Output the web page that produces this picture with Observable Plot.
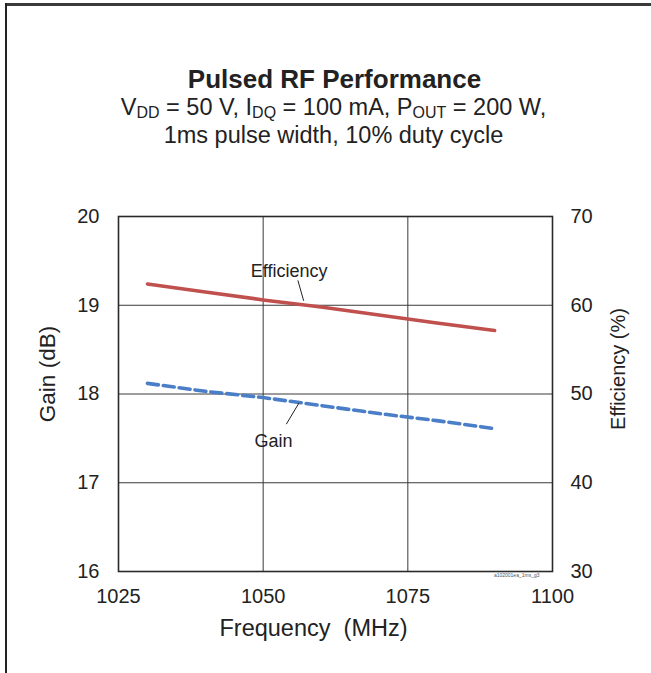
<!DOCTYPE html>
<html>
<head>
<meta charset="utf-8">
<script src="https://cdn.jsdelivr.net/npm/d3@7"></script>
<script src="https://cdn.jsdelivr.net/npm/@observablehq/plot@0.6"></script>
<style>
  html, body { margin: 0; padding: 0; background: #fff; }
  #wrap { position: relative; width: 651px; height: 673px; overflow: hidden; font-family: "Liberation Sans", Arial, sans-serif; color: #222; }
  .bt { position: absolute; left: 5px; top: 3px; width: 646px; height: 2.5px; background: #3a3a3a; }
  .bl { position: absolute; left: 5px; top: 3px; width: 2px; height: 670px; background: #222; }
  .title { position: absolute; left: 0; width: 669px; top: 66px; text-align: center; font-size: 26px; line-height: 26px; font-weight: bold; white-space: nowrap; }
  .sub { position: absolute; left: 0; width: 667px; text-align: center; font-size: 23.5px; line-height: 24px; white-space: nowrap; }
  .sub sub { font-size: 0.68em; vertical-align: -0.2em; line-height: 0; }
  #chart { position: absolute; left: 0; top: 170px; }
</style>
</head>
<body>
<div id="wrap">
  <div class="bt"></div>
  <div class="bl"></div>
  <div class="title">Pulsed RF Performance</div>
  <div class="sub" style="top:95px">V<sub>DD</sub> = 50 V, I<sub>DQ</sub> = 100 mA, P<sub>OUT</sub> = 200 W,</div>
  <div class="sub" style="top:123px">1ms pulse width, 10% duty cycle</div>
  <div id="chart"></div>
</div>
<script>
// ---- data ----
const freq = [1030, 1040, 1050, 1060, 1070, 1080, 1090];
const gain = [18.12, 18.03, 17.96, 17.87, 17.78, 17.70, 17.61];
const efficiency = [62.4, 61.5, 60.6, 59.8, 58.9, 58.0, 57.15];

const freqTicks = [1025, 1050, 1075, 1100];
const gainTicks = [16, 17, 18, 19, 20];
const effTicks = [30, 40, 50, 60, 70];

const annText = ["Efficiency", "Gain"];
const annFreq = [1054.5, 1051.8];
const annValue = [63.8, 17.47];      // efficiency (%), gain (dB)
const leadFreq1 = [1056.0, 1054.0];
const leadVal1 = [62.8, 17.66];
const leadFreq2 = [1057.0, 1056.2];
const leadVal2 = [60.5, 17.90];

const codeLabel = "a102001ea_1ms_g3";

// map efficiency (%) onto the gain scale
const gMin = gainTicks[0], gMax = gainTicks[gainTicks.length - 1];
const eMin = effTicks[0], eMax = effTicks[effTicks.length - 1];
const toGain = e => gMin + (e - eMin) * (gMax - gMin) / (eMax - eMin);
const toEff = g => eMin + (g - gMin) * (eMax - eMin) / (gMax - gMin);

const gainData = freq.map((f, i) => ({f, v: gain[i]}));
const effData = freq.map((f, i) => ({f, v: toGain(efficiency[i])}));
const ann = annText.map((t, i) => ({
  t, f: annFreq[i], v: i === 0 ? toGain(annValue[i]) : annValue[i],
  f1: leadFreq1[i], v1: i === 0 ? toGain(leadVal1[i]) : leadVal1[i],
  f2: leadFreq2[i], v2: i === 0 ? toGain(leadVal2[i]) : leadVal2[i]
}));

const font = "'Liberation Sans', Arial, sans-serif";

const chart = Plot.plot({
  width: 651,
  height: 503,
  marginTop: 46,
  marginRight: 99,
  marginBottom: 102,
  marginLeft: 118,
  style: {fontFamily: font, fontSize: "20px", color: "#222", background: "transparent"},
  x: {domain: [1025, 1100]},
  y: {domain: [gMin, gMax]},
  marks: [
    Plot.gridX(freqTicks, {stroke: "#3a3a3a", strokeOpacity: 1, strokeWidth: 1}),
    Plot.gridY(gainTicks, {stroke: "#3a3a3a", strokeOpacity: 1, strokeWidth: 1}),
    Plot.frame({stroke: "#2a2a2a", strokeWidth: 1.6}),
    Plot.axisX(freqTicks, {tickSize: 0, tickPadding: 17, fontSize: 20, label: null, tickFormat: d => String(d)}),
    Plot.axisY(gainTicks, {anchor: "left", tickSize: 0, tickPadding: 19, fontSize: 20, label: null, tickFormat: d => String(d)}),
    Plot.axisY(gainTicks, {anchor: "right", tickSize: 0, tickPadding: 18, fontSize: 20, label: null, tickFormat: d => String(Math.round(toEff(d)))}),
    Plot.line(effData, {x: "f", y: "v", stroke: "#C0504D", strokeWidth: 3.6}),
    Plot.line(gainData, {x: "f", y: "v", stroke: "#4A7EC7", strokeWidth: 3.6, strokeDasharray: "11,5"}),
    Plot.link(ann, {x1: "f1", y1: "v1", x2: "f2", y2: "v2", stroke: "#222", strokeWidth: 1}),
    Plot.text(ann, {x: "f", y: "v", text: "t", fontSize: 18, fill: "#222"}),
    Plot.text(["Gain (dB)"], {frameAnchor: "left", textAnchor: "middle", lineAnchor: "middle", dx: -71, dy: -20, rotate: -90, text: d => d, fontSize: 22.5, fill: "#222"}),
    Plot.text(["Efficiency (%)"], {frameAnchor: "right", textAnchor: "middle", lineAnchor: "middle", dx: 66, dy: -25, rotate: -90, text: d => d, fontSize: 20, fill: "#222"}),
    Plot.text(["Frequency\u00a0 (MHz)"], {frameAnchor: "bottom", textAnchor: "middle", lineAnchor: "middle", dx: -22, dy: 57, text: d => d, fontSize: 23.5, fill: "#222"}),
    Plot.text([codeLabel], {frameAnchor: "bottom-right", dx: -13, dy: 2, lineAnchor: "top", textAnchor: "end", text: d => d, fontSize: 5, fill: "#555"})
  ]
});
document.getElementById("chart").appendChild(chart);
</script>
</body>
</html>
